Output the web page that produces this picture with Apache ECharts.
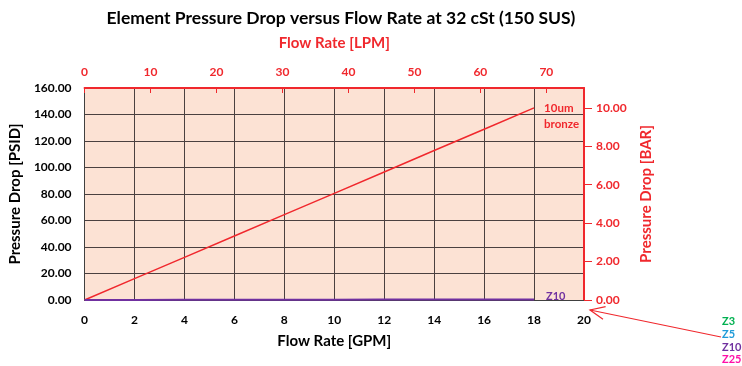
<!DOCTYPE html>
<html>
<head>
<meta charset="utf-8">
<script src="https://cdn.jsdelivr.net/npm/echarts@6/dist/echarts.min.js"></script>
<style>
  html, body { margin: 0; padding: 0; background: #fff; }
  #chart { width: 742px; height: 366px; }
</style>
</head>
<body>
<div id="chart"></div>
<script>
// Flow rate in GPM and element pressure drop in PSID
const flowGpm = [0, 2, 4, 6, 8, 10, 12, 14, 16, 18];
const bronze10um = [0, 16.1, 32.2, 48.3, 64.4, 80.5, 96.6, 112.8, 128.9, 145.0];
const z10 = [0, 0.05, 0.1, 0.15, 0.2, 0.25, 0.3, 0.35, 0.4, 0.45];

// Element grades listed beside the chart
const gradeNames = ['Z3', 'Z5', 'Z10', 'Z25'];
const gradeColors = ['#00B050', '#1F9BD8', '#7030A0', '#FF0FA8'];

// Axis ranges: GPM on the bottom, LPM on top, PSID left, BAR right
const gpmMax = 20;
const psiMax = 160;
const lpmPerGpm = 3.7854;
const barPerPsi = 0.0689476;

const RED = '#F0282D';
const FONT = 'Lato, "Open Sans", sans-serif';

const chart = echarts.init(document.getElementById('chart'), null, { renderer: 'canvas' });

const pairs = (xs, ys) => xs.map((x, i) => [x, ys[i]]);

const option = {
  animation: false,
  textStyle: { fontFamily: FONT },
  title: [
    {
      text: 'Element Pressure Drop versus Flow Rate at 32 cSt (150 SUS)',
      left: 336, top: 4, textAlign: 'center',
      textStyle: { fontSize: 17.5, fontWeight: 'bold', color: '#000', fontFamily: FONT }
    }
  ],
  grid: {
    left: 83, right: 158, top: 88, bottom: 66,
    show: true, backgroundColor: '#FCE2D4', borderWidth: 0
  },
  xAxis: [
    {
      type: 'value', position: 'bottom', min: 0, max: gpmMax, interval: 2,
      name: 'Flow Rate [GPM]', nameLocation: 'middle', nameGap: 34,
      nameTextStyle: { fontSize: 15, fontWeight: 'bold', color: '#000', fontFamily: FONT },
      axisLine: { show: true, lineStyle: { color: '#404040', width: 1 } },
      axisTick: { show: false },
      axisLabel: { fontSize: 12, fontWeight: 'bold', color: '#000', margin: 14, fontFamily: FONT },
      splitLine: { show: true, lineStyle: { color: '#4a4040', width: 1 } }
    },
    {
      type: 'value', position: 'top', min: 0, max: gpmMax * lpmPerGpm, interval: 10,
      name: 'Flow Rate [LPM]', nameLocation: 'middle', nameGap: 37,
      nameTextStyle: { fontSize: 15, fontWeight: 'bold', color: RED, fontFamily: FONT },
      axisLine: { show: true, onZero: false, lineStyle: { color: RED, width: 2 } },
      axisTick: { show: true, inside: true, length: 5, lineStyle: { color: RED, width: 1 } },
      axisLabel: { fontSize: 12, fontWeight: 'bold', color: RED, margin: 10, showMaxLabel: false, fontFamily: FONT },
      splitLine: { show: false }
    }
  ],
  yAxis: [
    {
      type: 'value', position: 'left', min: 0, max: psiMax, interval: 20,
      name: 'Pressure Drop [PSID]', nameLocation: 'middle', nameGap: 56,
      nameTextStyle: { fontSize: 15, fontWeight: 'bold', color: '#000', fontFamily: FONT },
      axisLine: { show: true, lineStyle: { color: '#404040', width: 1 } },
      axisTick: { show: false },
      axisLabel: { fontSize: 12, fontWeight: 'bold', color: '#000', margin: 13,
        formatter: v => v.toFixed(2), fontFamily: FONT },
      splitLine: { show: true, lineStyle: { color: '#4a4040', width: 1 } }
    },
    {
      type: 'value', position: 'right', min: 0, max: psiMax * barPerPsi, interval: 2,
      name: 'Pressure Drop [BAR]', nameLocation: 'middle', nameGap: 55,
      nameTextStyle: { fontSize: 15, fontWeight: 'bold', color: RED, fontFamily: FONT },
      axisLine: { show: true, onZero: false, lineStyle: { color: RED, width: 2 } },
      axisTick: { show: true, inside: false, length: 8, lineStyle: { color: RED, width: 1 } },
      axisLabel: { fontSize: 12, fontWeight: 'bold', color: RED, margin: 12, showMaxLabel: false,
        formatter: v => v.toFixed(2), fontFamily: FONT },
      splitLine: { show: false }
    }
  ],
  series: [
    {
      name: '10um bronze', type: 'line', xAxisIndex: 0, yAxisIndex: 0,
      data: pairs(flowGpm, bronze10um), showSymbol: false, symbol: 'none',
      lineStyle: { color: RED, width: 1.5 },
      endLabel: {
        show: true, formatter: '10um\nbronze', color: RED, fontSize: 11.5, fontWeight: 'bold',
        lineHeight: 16, offset: [2, 8], fontFamily: FONT
      }
    },
    {
      name: 'Z10', type: 'line', xAxisIndex: 0, yAxisIndex: 0,
      data: pairs(flowGpm, z10), showSymbol: false, symbol: 'none',
      lineStyle: { color: '#7030A0', width: 2 },
      endLabel: {
        show: true, formatter: 'Z10', color: '#7030A0', fontSize: 11, fontWeight: 'bold',
        offset: [4, -3], fontFamily: FONT
      }
    }
  ]
};

chart.setOption(option);

// Grade list beside the chart and the pointer from it toward the origin of the BAR scale
const listX = 722, listTop = 316, listStep = 12.8;
const grades = gradeNames.map((name, i) => ({
  type: 'text', left: listX, top: listTop + i * listStep,
  style: { text: name, fill: gradeColors[i], font: 'bold 11px ' + FONT }
}));

const tip = chart.convertToPixel({ xAxisIndex: 0, yAxisIndex: 0 }, [gpmMax, 0]);
const tipX = tip[0] + 6, tipY = tip[1] + 10;
const tailX = 721, tailY = 337;
const ang = Math.atan2(tailY - tipY, tailX - tipX);
const headLen = 16, headSpread = 0.42;
const head = [
  [tipX + headLen * Math.cos(ang - headSpread), tipY + headLen * Math.sin(ang - headSpread)],
  [tipX, tipY],
  [tipX + headLen * Math.cos(ang + headSpread), tipY + headLen * Math.sin(ang + headSpread)]
];

chart.setOption({
  graphic: grades.concat([
    { type: 'line', shape: { x1: tipX, y1: tipY, x2: tailX, y2: tailY },
      style: { stroke: RED, lineWidth: 1.2 } },
    { type: 'polyline', shape: { points: head }, style: { stroke: RED, lineWidth: 1.2, fill: null } }
  ])
});
</script>
</body>
</html>
